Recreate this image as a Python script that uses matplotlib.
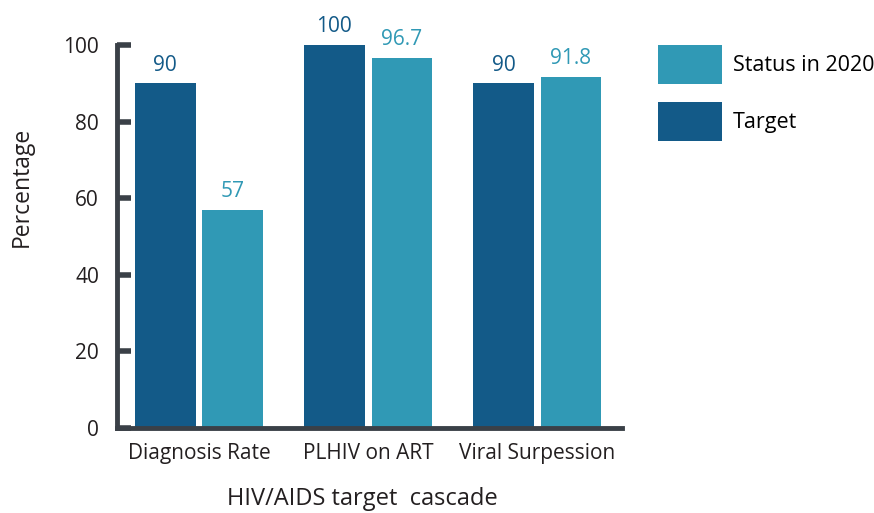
import numpy as np
import matplotlib.pyplot as plt

plt.rcParams['font.family'] = ['Open Sans', 'DejaVu Sans']

# data
categories = ['Diagnosis Rate', 'PLHIV on ART', 'Viral Surpession']
target = [90, 100, 90]
status_2020 = [57, 96.7, 91.8]
yticks = [0, 20, 40, 60, 80, 100]

c_target = '#135a88'
c_status = '#3099b5'
c_axis = '#3a4047'
c_text = '#231f20'

fig = plt.figure(figsize=(8.74, 5.13), dpi=100)
ax = fig.add_axes([0.134, 0.166, 0.578, 0.746])

x = np.arange(len(categories))
w = 0.36
off = 0.2
b1 = ax.bar(x - off, target, w, color=c_target, label='Target')
b2 = ax.bar(x + off, status_2020, w, color=c_status, label='Status in 2020')

for rect, v in zip(b1, target):
    ax.text(rect.get_x() + rect.get_width() / 2, v + 2, f'{v:g}',
            ha='center', va='bottom', color=c_target, fontsize=15)
for rect, v in zip(b2, status_2020):
    ax.text(rect.get_x() + rect.get_width() / 2, v + 2, f'{v:g}',
            ha='center', va='bottom', color=c_status, fontsize=15)

ax.set_xlim(-0.485, 2.503)
ax.set_ylim(0, 100)
ax.set_yticks(yticks)
ax.set_xticks(x)
ax.set_xticklabels(categories)
ax.tick_params(axis='y', direction='in', length=10, width=4, color=c_axis,
               labelsize=15, labelcolor=c_text, pad=13)
ax.tick_params(axis='x', length=0, labelsize=15, labelcolor=c_text, pad=11)

for s in ['top', 'right']:
    ax.spines[s].set_visible(False)
for s in ['left', 'bottom']:
    ax.spines[s].set_linewidth(3.5)
    ax.spines[s].set_color(c_axis)

ax.set_ylabel('Percentage', fontsize=16.5, color=c_text)
ax.yaxis.set_label_coords(-0.166, 0.63)
ax.set_xlabel('HIV/AIDS target  cascade', fontsize=17, color=c_text)
ax.xaxis.set_label_coords(0.485, -0.155)

handles, labels = ax.get_legend_handles_labels()
fig.legend(handles[::-1], labels[::-1], loc='upper left',
           bbox_to_anchor=(0.753, 0.912), frameon=False, fontsize=15.5,
           borderpad=0, borderaxespad=0,
           handlelength=2.98, handleheight=2.41, labelspacing=0.81,
           handletextpad=0.5)

fig.savefig('out.png', dpi=100)
